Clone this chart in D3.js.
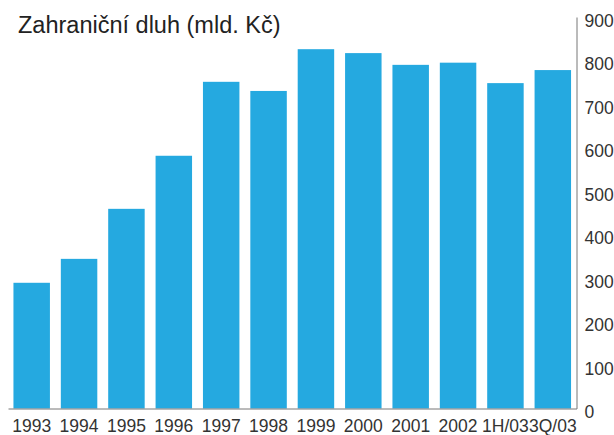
<!DOCTYPE html>
<html>
<head>
<meta charset="utf-8">
<script src="https://cdn.jsdelivr.net/npm/d3@7"></script>
<style>
  body { margin: 0; background: #fff; }
  svg { display: block; font-family: "Liberation Sans", Arial, sans-serif; }
  .axis text { fill: #333; font-size: 17.5px; }
  .axis path { stroke: #777; }
  .titleText { fill: #222; font-size: 23.5px; }
</style>
</head>
<body>
<div class="chart"></div>
<script>
// Chart data
var categories = ["1993", "1994", "1995", "1996", "1997", "1998", "1999", "2000", "2001", "2002", "1H/03", "3Q/03"];
var debtValues = [289, 344, 459, 581, 751, 730, 826, 817, 790, 795, 748, 778];
var yTicks = [0, 100, 200, 300, 400, 500, 600, 700, 800, 900];

// Dimensions
var width = 614;
var height = 435;
var plot = {left: 8, right: 576.5, top: 17, bottom: 408.5};

var svg = d3.select(".chart")
  .append("svg")
  .attr("width", width)
  .attr("height", height);

// Scales
var x = d3.scaleBand()
  .domain(categories)
  .range([plot.left, plot.right])
  .paddingInner(0.23)
  .paddingOuter(0.115);

var y = d3.scaleLinear()
  .domain([0, 900])
  .range([plot.bottom, plot.top]);

// Bars
svg.selectAll(".bar")
  .data(debtValues)
  .enter()
  .append("rect")
  .attr("class", "bar")
  .attr("x", function(d, i) { return x(categories[i]); })
  .attr("width", x.bandwidth())
  .attr("y", function(d) { return y(d); })
  .attr("height", function(d) { return y(0) - y(d); })
  .style("fill", "#25a9e0");

// Bottom axis (acts as the baseline)
svg.append("g")
  .attr("class", "axis")
  .attr("transform", "translate(0," + plot.bottom + ")")
  .call(d3.axisBottom(x).tickSize(0).tickPadding(11.5));

// Right axis
var yAxis = svg.append("g")
  .attr("class", "axis")
  .attr("transform", "translate(" + plot.right + ",0)")
  .call(d3.axisRight(y).tickValues(yTicks).tickSize(0).tickPadding(8));

yAxis.selectAll("text").attr("dy", "0.54em");

// Title
svg.append("text")
  .attr("class", "titleText")
  .attr("x", 18)
  .attr("y", 33)
  .text("Zahraniční dluh (mld. Kč)");
</script>
</body>
</html>
